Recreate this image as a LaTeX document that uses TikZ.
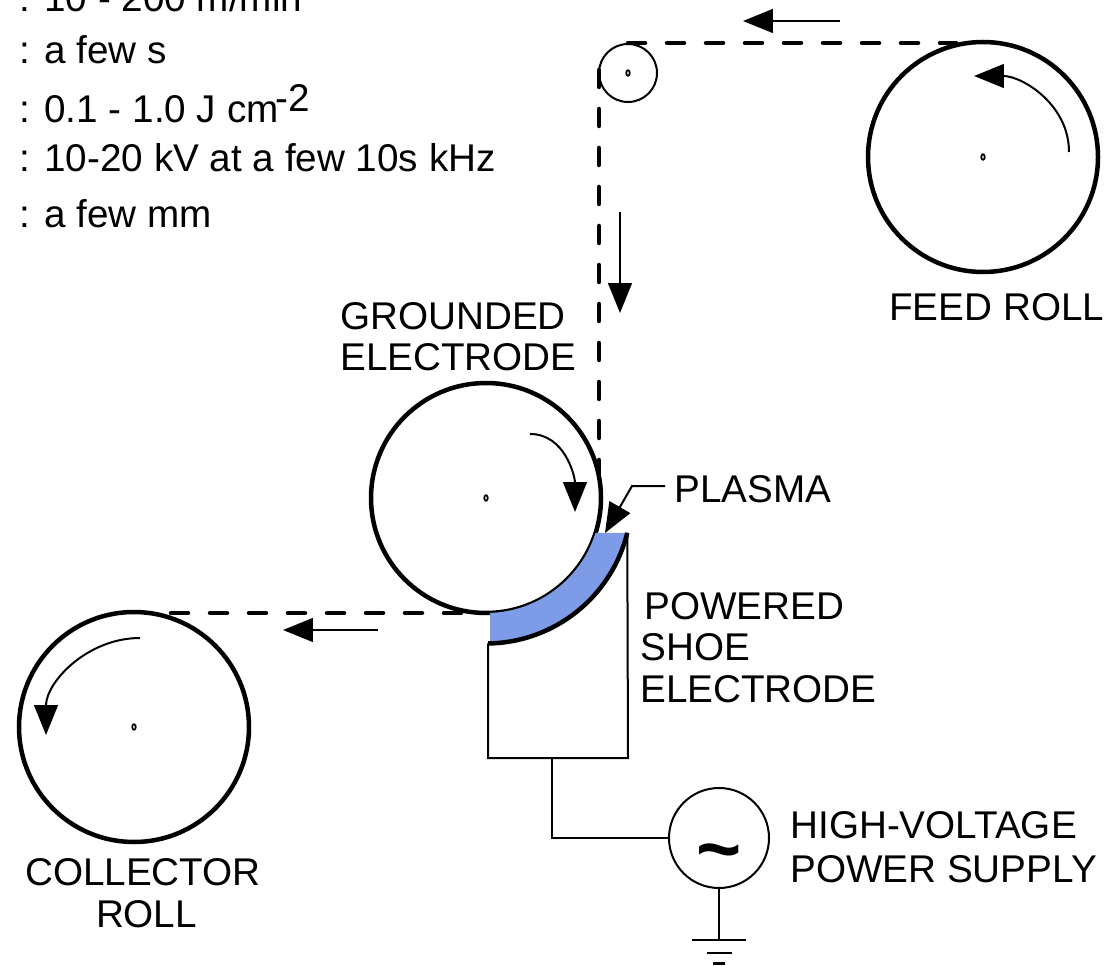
\documentclass[tikz,border=0pt]{standalone}
\usepackage{fontspec}
\setmainfont{Liberation Sans}
\usepackage{xcolor}
\usetikzlibrary{arrows.meta,shapes.geometric}
\tikzset{>={Triangle[length=17pt,width=13.5pt]}}
\definecolor{shoeblue}{RGB}{125,155,230}
\tikzset{
	roll/.style={draw,circle,line width=.09cm,inner sep=0pt,outer sep=0pt,minimum size=4.6cm},
	axle/.style={draw,ellipse,line width=.035cm,inner sep=0pt,minimum width=.07cm,minimum height=.11cm},
	web/.style={line width=.09cm,line cap=round,dash pattern=on .34cm off .44cm},
	wire/.style={line width=.04cm},
	label/.style={anchor=base west,inner sep=0pt,font=\fontsize{22}{23.5}\selectfont}
}
\begin{document}
\begin{tikzpicture}
	\useasboundingbox (0,0) rectangle (22.14,19.3);
	% rolls
	\node (feed) at (19.66,16.16) [roll] {};
	\node (idler) at (12.56,17.84) [roll,wire,minimum size=1.16cm] {};
	\node (ground) at (9.72,9.34) [roll] {};
	\node (collector) at (2.68,4.76) [roll] {};
	\node (feedaxle) at (feed.center) [axle] {};
	\node (idleraxle) at (idler.center) [axle] {};
	\node (groundaxle) at (ground.center) [axle] {};
	\node (collectoraxle) at (collector.center) [axle] {};
	% shoe
	\coordinate (shoetop) at ([shift={(ground.center)}]-13.85:2.91);
	\coordinate (shoebot) at ([shift={(ground.center)}]-89.2:2.91);
	\coordinate (gaptop) at ([shift={(ground.center)}]-17.7:2.3);
	\coordinate (gapbot) at ([shift={(ground.center)}]-88:2.3);
	\coordinate (boxleft) at (9.76,4.14);
	\coordinate (boxright) at (12.56,4.14);
	\coordinate (boxtap) at (11.04,4.14);
	\fill [shoeblue] (shoetop) arc[start angle=-13.85,end angle=-88.4,radius=2.91] -- (gapbot)
		arc[start angle=-88,end angle=-17.7,radius=2.3] -- (gaptop) -- cycle;
	\draw [line width=.09cm] (shoetop) arc[start angle=-13.85,end angle=-89.2,radius=2.91];
	\draw [wire] (shoebot) -- (boxleft) -- (boxright) -- (shoetop);
	% web
	\coordinate (webfeed) at (19.12,18.44);
	\coordinate (webidler) at (12.56,18.44);
	\coordinate (webdown) at (11.98,17.90);
	\coordinate (webnip) at (11.98,9.78);
	\coordinate (webground) at (9.74,7.04);
	\coordinate (webcollector) at (2.94,7.04);
	\draw [web] (webidler) -- (webfeed);
	\draw [web] (webdown) -- (webnip);
	\draw [web,dash phase=.30cm] (webcollector) -- (webground);
	% direction arrows
	\coordinate (toptail) at (16.80,18.88);
	\coordinate (toptip) at (14.86,18.88);
	\coordinate (downtail) at (12.40,15.06);
	\coordinate (downtip) at (12.40,13.04);
	\coordinate (outtail) at (7.56,6.70);
	\coordinate (outtip) at (5.66,6.70);
	\draw [->,wire] (toptail) -- (toptip);
	\draw [->,wire] (downtail) -- (downtip);
	\draw [->,wire] (outtail) -- (outtip);
	\coordinate (feedtail) at (21.38,16.26);
	\coordinate (feedtip) at (19.48,17.78);
	\coordinate (groundtail) at (10.60,10.62);
	\coordinate (groundtip) at (11.50,9.06);
	\coordinate (collectortail) at (2.80,6.54);
	\coordinate (collectortip) at (0.92,4.60);
	\draw [->,wire] (feedtail) to[out=90,in=0] (feedtip);
	\draw [->,wire] (groundtail) to[out=0,in=90] (groundtip);
	\draw [->,wire] (collectortail) to[out=180,in=90] (collectortip);
	% supply
	\node (supply) at (14.38,2.54) [roll,wire,minimum size=2cm] {};
	\node (tilde) at (14.38,2.10) [inner sep=0pt,font=\fontsize{44}{44}\selectfont\bfseries] {\textasciitilde};
	\coordinate (earth) at (14.38,0.50);
	\draw [wire] (boxtap) |- (supply.west);
	\draw [wire] (supply.south) -- (earth);
	\foreach \barwidth/\bary in {.54/.50,.25/.24,.12/.03}
		\draw [line width=.05cm] (14.38-\barwidth,\bary) -- (14.38+\barwidth,\bary);
	% labels
	\node (speed) at (.38,19.06) [label] {: 10 - 200 m/min};
	\node (time) at (.38,18.02) [label] {: a few s};
	\node (dose) at (.38,16.84) [label] {: 0.1 - 1.0 J cm\kern-1.5pt\raisebox{.22cm}{-2}};
	\node (voltage) at (.38,15.86) [label] {: 10-20 kV at a few 10s kHz};
	\node (gap) at (.38,14.74) [label] {: a few mm};
	\node (feedlabel) at (17.78,12.88) [label] {FEED ROLL};
	\node (groundlabel) at (6.80,11.88) [label,align=left] {GROUNDED\\ELECTRODE};
	\node (plasma) at (13.30,9.24) [label,inner xsep=.18cm] {PLASMA};
	\node (shoelabel) at (12.80,5.26) [label,align=left] {\hspace*{.08cm}POWERED\\SHOE\\ELECTRODE};
	\node (collectorlabel) at (2.86,.76) [label,anchor=base,align=center] {COLLECTOR\\\hspace*{.14cm}ROLL};
	\node (supplylabel) at (15.80,1.66) [label,align=left] {HIGH-VOLTAGE\\[1.4pt]POWER SUPPLY};
	% plasma leader
	\coordinate (plasmakink) at (12.64,9.58);
	\coordinate (plasmatip) at (12.10,8.64);
	\draw [->,wire] ([yshift=.07cm]plasma.west) -- (plasmakink) -- (plasmatip);
\end{tikzpicture}
\end{document}
